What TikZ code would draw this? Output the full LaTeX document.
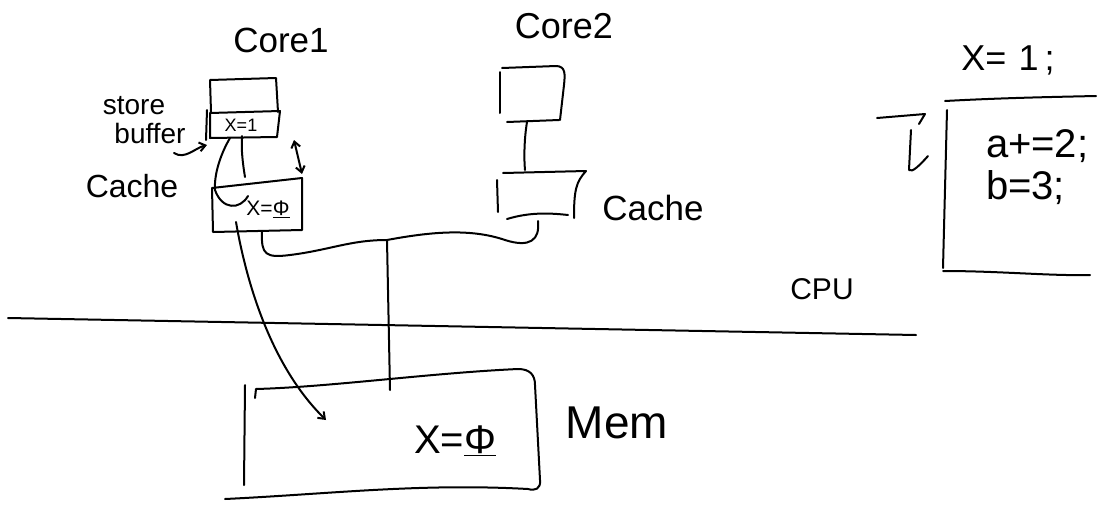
\documentclass[tikz,border=0pt]{standalone}
\usepackage{fontspec}
\setmainfont{Liberation Sans}
\usetikzlibrary{arrows.meta}
\newcommand{\fs}[1]{\fontsize{#1}{#1}\selectfont}
\begin{document}
\begin{tikzpicture}[x=1pt,y=-1pt,line width=2pt,line cap=round,line join=round,
  every node/.style={inner sep=0pt},
  arr/.style={-{Straight Barb[length=6pt,width=9pt]}},
  darr/.style={{Straight Barb[length=6pt,width=9pt]}-{Straight Barb[length=6pt,width=9pt]}}]
\useasboundingbox[fill=white] (0,0) rectangle (1114,504);

% ---------- labels ----------
\node[font=\fs{35}] (core1) at (281,40) {Core1};
\node[font=\fs{36}] (core2) at (564,26) {Core2};
\node[font=\fs{28}] (sb1) at (134,106) {store};
\node[font=\fs{28}] (sb2) at (150,133) {buffer};
\node[font=\fs{32}] (cachelA) at (132,186) {Cache};
\node[font=\fs{35}] (cachelB) at (653,208) {Cache};
\node[font=\fs{30}] (cpu) at (822,289) {CPU};
\node[font=\fs{46}] (mem) at (617,423) {Mem};

% ---------- Core1 ----------
\coordinate (c1tl) at (210,80);
\coordinate (c1tr) at (276,78);
\draw (211,112) -- (c1tl) -- (c1tr) -- (278,112);
% store buffer strip
\draw (210,113) -- (280,111) -- (277,137) -- (210,138) -- cycle;
\draw (207,110) -- (206,140);
\node[font=\fs{18}] (sbx) at (241,125) {X=1};
% store buffer pointer
\coordinate (sbp) at (174,153);
\coordinate (sbq) at (207,145);
\draw[arr] (sbp) .. controls (185,160) and (195,148) .. (sbq);

% ---------- Cache1 ----------
\coordinate (k1tl) at (212,188);
\coordinate (k1tr) at (302,178);
\coordinate (k1br) at (302,230);
\coordinate (k1bl) at (213,232);
\draw (k1tl) -- (k1tr) -- (k1br) -- (k1bl) -- cycle;
\node[font=\fs{21}] (k1x) at (268,209) {X=\underline{Φ}};
% store buffer -> cache paths
\coordinate (sbb1) at (230,138);
\coordinate (sbb2) at (242,136);
\draw (sbb1) .. controls (220,155) and (214,175) .. (215,190)
      .. controls (222,210) and (240,210) .. (248,196);
\draw (sbb2) .. controls (241,150) and (243,165) .. (245,177);
% double arrow core1 <-> cache
\coordinate (da1) at (294,140);
\coordinate (da2) at (302,174);
\draw[darr] (da1) -- (da2);

% ---------- Core2 ----------
\coordinate (c2a) at (500,72);
\draw (500,113) -- (c2a);
\draw (502,68) -- (556,66) .. controls (566,66) and (565,75) .. (564,85) -- (560,120);
\draw (507,122) -- (559,120);
\coordinate (c2b) at (527,122);
\coordinate (k2t) at (525,170);
\draw (c2b) .. controls (524,140) and (524,160) .. (k2t);

% ---------- Cache2 ----------
\draw (503,173) -- (586,171) .. controls (576,182) and (574,190) .. (574,218);
\draw (497,180) -- (498,212);
\draw (507,219) .. controls (530,212) and (550,213) .. (568,215);

% ---------- bus ----------
\coordinate (k1b2) at (262,232);
\coordinate (k2b) at (538,221);
\coordinate (bj) at (387,240);
\draw (k1b2) .. controls (261,255) and (266,258) .. (290,255)
      .. controls (330,250) and (350,240) .. (bj)
      .. controls (430,232) and (470,228) .. (505,240)
      .. controls (530,248) and (540,240) .. (k2b);
\coordinate (mtop) at (390,390);
\draw (bj) -- (mtop);
% cache1 -> memory arrow
\coordinate (k1b1) at (236,222);
\coordinate (mx) at (326,420);
\draw[arr] (k1b1) .. controls (246,280) and (270,365) .. (mx);

% ---------- divider ----------
\coordinate (dl) at (8,318);
\coordinate (dr) at (916,335);
\draw (dl) -- (dr);

% ---------- Memory ----------
\draw (245,385) -- (244,485);
\draw (255,398) -- (256,389) .. controls (330,387) and (430,373) .. (518,369)
      .. controls (530,369) and (535,375) .. (535,385)
      -- (540,480) .. controls (541,489) and (535,491) .. (528,489)
      .. controls (420,483) and (330,494) .. (225,499);
\node[font=\fs{40}] (mx2) at (455,441) {X=\underline{Φ}};

% ---------- code panel ----------
\node[font=\fs{36}] (x1) at (1008,60) {X=\,\,1\,;};
\draw (945,101) .. controls (1000,98) and (1050,97) .. (1096,96);
\draw (947,110) -- (943,268);
\draw (943,271) .. controls (1000,271) and (1050,276) .. (1090,275);
\node[font=\fs{40},anchor=west] (code1) at (985,146) {a+=2;};
\node[font=\fs{40},anchor=west] (code2) at (985,188) {b=3;};
% reorder arrow
\coordinate (ra) at (877,118);
\coordinate (rb) at (925,114);
\draw (ra) -- (rb) -- (919,124);
\coordinate (rc) at (911,130);
\coordinate (rd) at (928,156);
\draw (rc) -- (909,170) .. controls (912,173) and (920,165) .. (rd);
\end{tikzpicture}
\end{document}
